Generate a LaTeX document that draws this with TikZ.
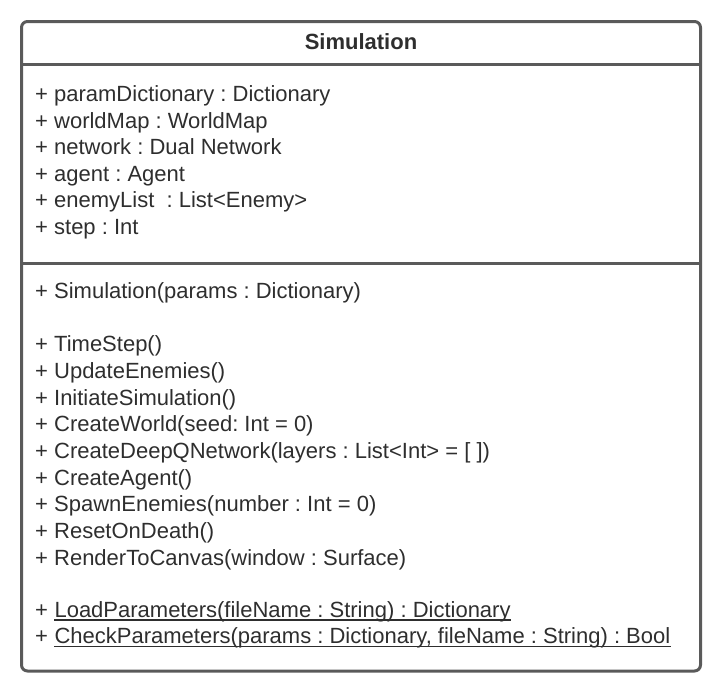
\documentclass[tikz,border=0pt]{standalone}
\usepackage{fontspec}
\setmainfont{Liberation Sans}
\frenchspacing
\definecolor{boxline}{HTML}{5A5A5A}
\definecolor{txt}{HTML}{2E2E2E}
\tikzset{
  member/.style={anchor=base west, inner sep=0pt, text=txt, font=\fontsize{22}{26}\selectfont\frenchspacing},
  title/.style={anchor=base, inner sep=0pt, text=txt, font=\fontsize{22}{26}\selectfont\bfseries},
  frame/.style={draw=boxline, line width=3pt, rounded corners=6pt},
  sep/.style={draw=boxline, line width=3pt},
  uline/.style={draw=txt, line width=1.5pt}
}
\begin{document}
\begin{tikzpicture}[x=1pt,y=-1pt]
\useasboundingbox (0,0) rectangle (723,694);
\draw[frame] (21.5,21.5) rectangle (700.5,671);
\coordinate (h1) at (21.5,64.5);
\coordinate (h2) at (700.5,64.5);
\coordinate (s1) at (21.5,263);
\coordinate (s2) at (700.5,263);
\draw[sep] (h1) -- (h2);
\draw[sep] (s1) -- (s2);
\node[title] (t) at (361,49.3) {Simulation};
\node[member] (a1) at (35,101.3) {+ paramDictionary : Dictionary};
\node[member] (a2) at (35,128) {+ worldMap : WorldMap};
\node[member] (a3) at (35,154.6) {+ network : Dual Network};
\node[member] (a4) at (35,181.3) {+ agent : Agent};
\node[member] (a5) at (35,207.9) {+ enemyList\ \ : List<Enemy>};
\node[member] (a6) at (35,234.6) {+ step : Int};
\node[member] (m0) at (35,298.3) {+ Simulation(params : Dictionary)};
\node[member] (m1) at (35,351.7) {+ TimeStep()};
\node[member] (m2) at (35,378.4) {+ UpdateEnemies()};
\node[member] (m3) at (35,405) {+ InitiateSimulation()};
\node[member] (m4) at (35,431.7) {+ CreateWorld(seed: Int = 0)};
\node[member] (m5) at (35,458.3) {+ CreateDeepQNetwork(layers : List<Int> = [ ])};
\node[member] (m6) at (35,485) {+ CreateAgent()};
\node[member] (m7) at (35,511.6) {+ SpawnEnemies(number : Int = 0)};
\node[member] (m8) at (35,538.3) {+ ResetOnDeath()};
\node[member] (m9) at (35,565) {+ RenderToCanvas(window : Surface)};
\node[member] (p1) at (35,617) {+};
\node[member] (u1) at ([xshift=6.1pt]p1.base east) {LoadParameters(fileName : String) : Dictionary};
\node[member] (p2) at (35,643.7) {+};
\node[member] (u2) at ([xshift=6.1pt]p2.base east) {CheckParameters(params : Dictionary, fileName : String) : Bool};
\draw[uline] ([yshift=-3pt]u1.base west) -- ([yshift=-3pt]u1.base east);
\draw[uline] ([yshift=-3pt]u2.base west) -- ([yshift=-3pt]u2.base east);
\end{tikzpicture}
\end{document}
